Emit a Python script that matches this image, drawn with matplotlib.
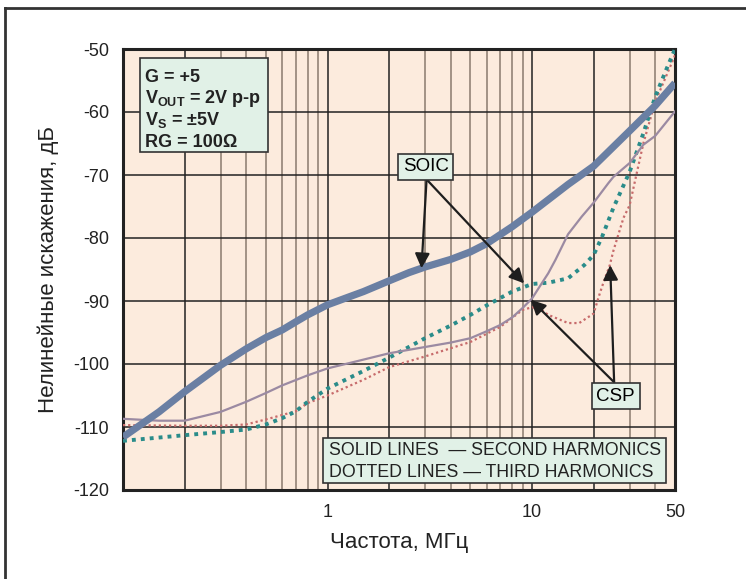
import numpy as np
import matplotlib
matplotlib.use("Agg")
from matplotlib import pyplot as plt
from matplotlib.patches import Rectangle
from matplotlib.lines import Line2D

plt.rcParams['font.family'] = ['Liberation Sans', 'DejaVu Sans']
plt.rcParams['axes.unicode_minus'] = False
plt.rcParams['mathtext.fontset'] = 'custom'
plt.rcParams['mathtext.rm'] = 'Liberation Sans'
plt.rcParams['mathtext.bf'] = 'Liberation Sans:bold'

# SOIC, second harmonic (thick solid)
f_soic2 = [0.1, 0.15, 0.2, 0.3, 0.4, 0.5, 0.6, 0.7, 0.8, 1, 1.5, 2, 2.5, 3, 4, 5, 6, 8, 10, 15, 20, 30, 40, 50]
d_soic2 = [-111.6, -107.6, -104.4, -100.2, -97.6, -95.8, -94.6, -93.3, -92.2, -90.6, -88.5, -86.8, -85.5,
           -84.6, -83.4, -82.2, -80.9, -78.2, -75.9, -71.5, -68.6, -63.0, -59.0, -55.4]

# CSP, second harmonic (thin solid)
f_csp2 = [0.1, 0.15, 0.2, 0.3, 0.4, 0.5, 0.6, 0.8, 1, 1.5, 2, 3, 4, 5, 6, 7, 8, 9, 10, 11, 12, 13, 15, 17.5,
          20, 23.6, 25, 30, 35, 40, 50]
d_csp2 = [-108.7, -109.0, -109.0, -107.6, -106.0, -104.6, -103.4, -101.8, -100.7, -99.3, -98.3, -97.3, -96.6,
          -95.9, -94.8, -93.8, -92.6, -91.1, -89.6, -87.5, -85.6, -83.5, -79.4, -76.6, -74.4, -71.3, -70.3,
          -68.1, -65.2, -63.8, -59.9]

# SOIC, third harmonic (thick dotted)
f_soic3 = [0.1, 0.2, 0.3, 0.4, 0.5, 0.6, 0.7, 0.8, 1, 1.5, 2, 3, 4, 5, 6, 8, 10, 12, 15, 18, 20, 22, 25,
           30, 35, 40, 45, 50]
d_soic3 = [-112.2, -111.3, -110.8, -110.4, -109.6, -108.6, -107.5, -106.0, -103.9, -101.1, -99.0, -95.9,
           -93.9, -92.2, -90.7, -88.5, -87.3, -87.1, -86.4, -84.3, -82.7, -79.8, -75.2, -69.5, -63.4, -57.6,
           -53.5, -50.0]

# CSP, third harmonic (thin dotted)
f_csp3 = [0.1, 0.2, 0.3, 0.4, 0.5, 0.7, 0.8, 1, 1.5, 2, 3, 5, 7, 9, 10, 11, 12, 15, 17, 20, 21.2, 22, 24,
          25, 28, 30, 32.5, 35, 40, 45, 50]
d_csp3 = [-109.7, -109.8, -109.8, -109.6, -108.8, -107.5, -106.2, -105.0, -102.5, -100.5, -98.8, -96.5,
          -94.1, -91.4, -91.0, -91.3, -92.2, -93.5, -93.5, -92.0, -89.3, -87.7, -84.3, -82.0, -76.8, -74.8,
          -69.7, -65.0, -58.4, -54.5, -51.0]

y_ticks = [-120, -110, -100, -90, -80, -70, -60, -50]
x_major = [0.2, 1, 2, 10, 20, 50]
x_labels = ['', '1', '', '10', '', '50']
x_minor = [0.3, 0.4, 0.5, 0.6, 0.7, 0.8, 0.9, 3, 4, 5, 6, 7, 8, 9, 30, 40]

soic_label = (3.02, -68.7)
soic_tail = (3.05, -70.7)
soic_tips = [(2.88, -84.8), (9.15, -87.2)]
csp_label = (25.6, -105.1)
csp_tail = (25.2, -102.9)
csp_tips = [(9.86, -89.8), (24.1, -84.3)]

conditions = ['G = +5', r'V$_{\mathbf{OUT}}$ = 2V p-p', r'V$_{\mathbf{S}}$ = ±5V', 'RG = 100Ω']
legend_lines = ['SOLID LINES  — SECOND HARMONICS', 'DOTTED LINES — THIRD HARMONICS']

fig = plt.figure(figsize=(7.46, 5.79), dpi=100)
ax = fig.add_axes([123 / 746, 89 / 579, 552 / 746, 441 / 579])
ax.set_facecolor('#FCEBDD')

ax.plot(f_csp3, d_csp3, color='#C76B6B', lw=1.6, linestyle=(0, (1, 1.3)), zorder=3)
ax.plot(f_soic3, d_soic3, color='#2A8C8A', lw=2.8, linestyle=(0, (1, 1.3)), dash_capstyle='butt', zorder=4)
ax.plot(f_csp2, d_csp2, color='#9B8AA2', lw=1.6, zorder=4)
ax.plot(f_soic2, d_soic2, color='#6A7FA3', lw=5.2, solid_capstyle='butt', zorder=5)

ax.set_xscale('log')
ax.set_xlim(0.1, 50)
ax.set_ylim(-120, -50)
ax.set_xticks(x_major)
ax.set_xticklabels(x_labels)
ax.set_xticks(x_minor, minor=True)
ax.set_xticklabels([], minor=True)
ax.set_yticks(y_ticks)
ax.tick_params(which='both', length=0, labelsize=13, colors='#222222')
ax.tick_params(axis='x', pad=10)
ax.tick_params(axis='y', pad=10)
ax.grid(which='major', color='#222222', lw=1.1)
ax.grid(which='minor', axis='x', color='#8A7A6E', lw=1.1)
ax.set_axisbelow(True)
for s in ax.spines.values():
    s.set_linewidth(2.2)
    s.set_color('#222222')

ax.set_xlabel('Частота, МГц', fontsize=16, color='#222222', labelpad=8)
ax.set_ylabel('Нелинейные искажения, дБ', fontsize=16, color='#222222', labelpad=10)

box_kw = dict(boxstyle='square,pad=0.25', facecolor='#E1F1E7', edgecolor='#333333', lw=1.2)
ax.text(*soic_label, 'SOIC', fontsize=13.5, ha='center', va='center', bbox=box_kw, zorder=7)
ax.text(*csp_label, 'CSP', fontsize=13.5, ha='center', va='center', bbox=box_kw, zorder=7)
arrow_kw = dict(arrowstyle='-|>', color='#1E1E1E', lw=1.6, mutation_scale=22, shrinkA=0, shrinkB=0)
for tip in soic_tips:
    ax.annotate('', xy=tip, xytext=soic_tail, arrowprops=arrow_kw, zorder=6)
for tip in csp_tips:
    ax.annotate('', xy=tip, xytext=csp_tail, arrowprops=arrow_kw, zorder=6)

# conditions box
ax.add_patch(Rectangle((17 / 552, (490 - 152) / 441), 128 / 552, 94 / 441, transform=ax.transAxes,
                       facecolor='#E1F1E7', edgecolor='#333333', lw=1.2, zorder=6))
for i, t in enumerate(conditions):
    ax.text(22 / 552, (490 - 77 - 21.7 * i) / 441, t, transform=ax.transAxes, fontsize=13,
            fontweight='bold', ha='left', va='center', color='#222222', zorder=7)

# line style note
ax.add_patch(Rectangle((200 / 552, 7.3 / 441), 342.7 / 552, 44.7 / 441, transform=ax.transAxes,
                       facecolor='#E1F1E7', edgecolor='#333333', lw=1.2, zorder=6))
for i, t in enumerate(legend_lines):
    ax.text(206 / 552, (490 - 450.7 - 21.6 * i) / 441, t, transform=ax.transAxes, fontsize=12.8,
            ha='left', va='center', color='#222222', zorder=7)

# outer frame (only left and top visible)
fig.add_artist(Line2D([5 / 746, 5 / 746], [0, 1 - 8 / 579], transform=fig.transFigure, color='#333333', lw=2))
fig.add_artist(Line2D([5 / 746, 1], [1 - 8 / 579, 1 - 8 / 579], transform=fig.transFigure, color='#333333', lw=2))

fig.savefig('out.png', dpi=100)
